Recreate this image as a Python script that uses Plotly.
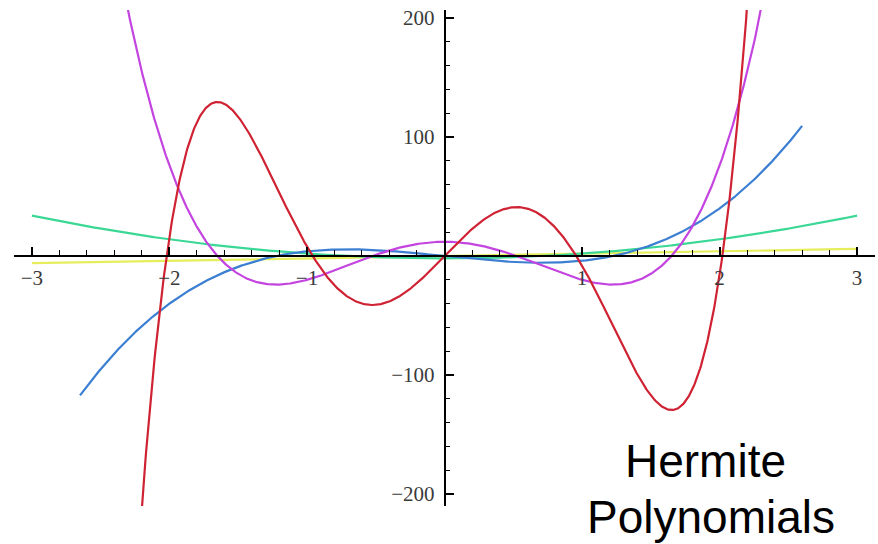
import numpy as np
import plotly.graph_objects as go

# Physicists' Hermite polynomials H1..H5, coefficients from highest power down
names = ["H1", "H2", "H3", "H4", "H5"]
coeffs = [
    [2, 0],
    [4, 0, -2],
    [8, 0, -12, 0],
    [16, 0, -48, 0, 12],
    [32, 0, -160, 0, 120, 0],
]
x_start = [-3.0, -3.0, -2.65, -3.0, -3.0]
x_end = [3.0, 3.0, 2.6, 3.0, 3.0]
colors = ["#e6ee5c", "#3ad894", "#3c7fd2", "#c444e0", "#cf2233"]

x_ticks = [-3, -2, -1, 1, 2, 3]
x_tick_text = ["\u22123", "\u22122", "\u22121", "1", "2", "3"]
y_ticks = [-200, -100, 100, 200]
y_tick_text = ["\u2212200", "\u2212100", "100", "200"]

x_range = [-3.13, 3.13]
y_range = [-210.0, 206.7]

fig = go.Figure()
for name, c, xs, xe, col in zip(names, coeffs, x_start, x_end, colors):
    xx = np.linspace(xs, xe, 1200)
    fig.add_trace(go.Scatter(
        x=xx, y=np.polyval(c, xx), mode="lines", name=name,
        line=dict(color=col, width=2.2), hoverinfo="skip",
    ))

tick_font = dict(family="Liberation Serif, Times New Roman, serif", size=21, color="#3a3a3a")
x_pos = (0 - y_range[0]) / (y_range[1] - y_range[0])
y_pos = (0 - x_range[0]) / (x_range[1] - x_range[0])

fig.update_layout(
    width=878, height=544,
    margin=dict(l=14, r=3, t=10, b=38),
    paper_bgcolor="white", plot_bgcolor="white",
    showlegend=False,
    xaxis=dict(
        range=x_range, anchor="free", position=x_pos,
        showgrid=False, zeroline=False,
        showline=True, linecolor="black", linewidth=1.6,
        ticks="inside", ticklen=8, tickwidth=1.6, tickcolor="black",
        tickmode="array", tickvals=x_ticks, ticktext=x_tick_text,
        tickfont=tick_font, ticklabelstandoff=3,
        minor=dict(ticks="inside", ticklen=5, tickwidth=1.3, tickcolor="black",
                   tickmode="linear", tick0=0, dtick=0.2, showgrid=False),
    ),
    yaxis=dict(
        range=y_range, anchor="free", position=y_pos,
        showgrid=False, zeroline=False,
        showline=True, linecolor="black", linewidth=1.6,
        ticks="inside", ticklen=9, tickwidth=1.6, tickcolor="black",
        tickmode="array", tickvals=y_ticks, ticktext=y_tick_text,
        tickfont=tick_font, ticklabelstandoff=5,
        minor=dict(ticks="inside", ticklen=5, tickwidth=1.3, tickcolor="black",
                   tickmode="linear", tick0=0, dtick=20, showgrid=False),
    ),
)

label_font = dict(family="Liberation Sans, Arial, sans-serif", size=46, color="black")
fig.add_annotation(text="Hermite", xref="paper", yref="paper",
                   x=(705 - 14) / 861, y=(506 - 461) / 496,
                   xanchor="center", yanchor="middle", showarrow=False, font=label_font)
fig.add_annotation(text="Polynomials", xref="paper", yref="paper",
                   x=(711 - 14) / 861, y=(506 - 517) / 496,
                   xanchor="center", yanchor="middle", showarrow=False, font=label_font)

fig.write_html("out.html")
